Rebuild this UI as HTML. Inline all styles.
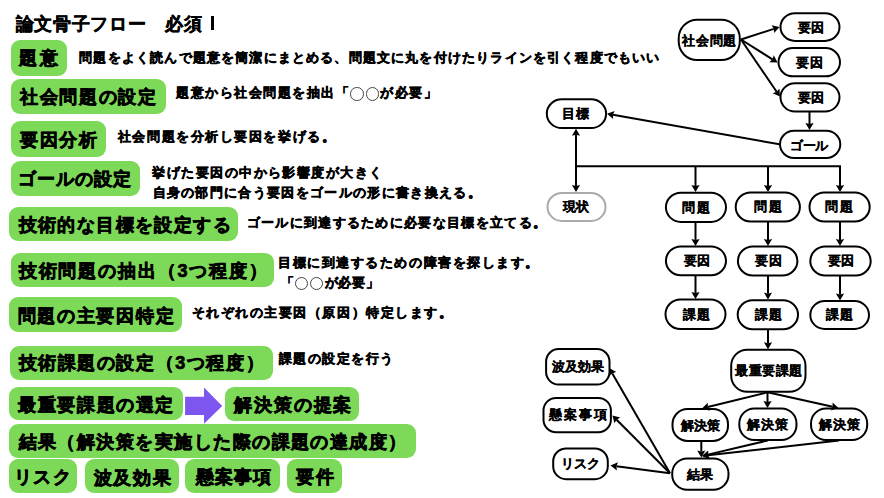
<!DOCTYPE html>
<html><head><meta charset="utf-8"><style>
html,body{margin:0;padding:0;background:#fff;}
body{width:884px;height:498px;position:relative;overflow:hidden;font-family:"Liberation Sans",sans-serif;color:#000;font-weight:bold;}
.t{position:absolute;white-space:nowrap;line-height:1;-webkit-text-stroke-color:#000;}
.b{position:absolute;background:#7dd958;border-radius:9px;}
.c{display:inline-block;box-sizing:border-box;width:13.6px;height:13.6px;margin:0 1.2px 0 0.3px;border:1.1px solid #444;border-radius:50%;vertical-align:top;position:relative;top:0px;-webkit-text-stroke:0;}
svg{position:absolute;left:0;top:0;}
</style></head><body>

<div class="b" style="left:10.6px;top:40.2px;width:56.2px;height:35.7px;"></div>
<div class="b" style="left:11.0px;top:78.6px;width:154.6px;height:35.0px;"></div>
<div class="b" style="left:10.8px;top:121.0px;width:95.6px;height:35.5px;"></div>
<div class="b" style="left:10.5px;top:160.6px;width:129.6px;height:35.4px;"></div>
<div class="b" style="left:9.4px;top:207.0px;width:228.9px;height:34.2px;"></div>
<div class="b" style="left:10.5px;top:252.7px;width:263.9px;height:34.6px;"></div>
<div class="b" style="left:9.1px;top:297.0px;width:173.3px;height:34.6px;"></div>
<div class="b" style="left:9.5px;top:345.7px;width:263.9px;height:34.5px;"></div>
<div class="b" style="left:9.1px;top:386.5px;width:173.9px;height:33.9px;"></div>
<div class="b" style="left:224.5px;top:386.5px;width:134.5px;height:34.4px;"></div>
<div class="b" style="left:9.1px;top:424.4px;width:406.7px;height:33.2px;"></div>
<div class="b" style="left:9.1px;top:459.4px;width:68.4px;height:33.8px;"></div>
<div class="b" style="left:84.9px;top:458.8px;width:93.8px;height:34.4px;"></div>
<div class="b" style="left:185.4px;top:458.8px;width:94.9px;height:34.4px;"></div>
<div class="b" style="left:287.0px;top:458.8px;width:54.8px;height:34.4px;"></div>
<svg width="884" height="498" viewBox="0 0 884 498"><polygon fill="#7c56ef" points="185.1,396.8 204,396.8 204,387.5 222.2,405.9 204,423.7 204,415 185.1,415"/></svg>
<svg width="884" height="498" viewBox="0 0 884 498"><g stroke="#000" stroke-width="2.0" fill="#fff">
<rect x="678.7" y="19.7" width="61.1" height="40.4" rx="18.5" stroke="#000"/>
<rect x="780.5" y="13.2" width="59.0" height="27.7" rx="14.5" stroke="#000"/>
<rect x="778.5" y="48.1" width="61.5" height="28.2" rx="14.5" stroke="#000"/>
<rect x="780.5" y="83.2" width="59.0" height="28.3" rx="14.5" stroke="#000"/>
<rect x="546.8" y="99.3" width="59.3" height="28.8" rx="15" stroke="#000"/>
<rect x="780.0" y="130.8" width="60.3" height="27.1" rx="14" stroke="#000"/>
<rect x="547.5" y="192.9" width="58.0" height="28.1" rx="14.5" stroke="#aaa"/>
<rect x="665.9" y="192.7" width="60.1" height="29.2" rx="15" stroke="#000"/>
<rect x="735.7" y="192.5" width="64.2" height="29.0" rx="15" stroke="#000"/>
<rect x="809.5" y="192.5" width="60.2" height="29.0" rx="15" stroke="#000"/>
<rect x="665.9" y="246.4" width="60.1" height="28.9" rx="15" stroke="#000"/>
<rect x="737.9" y="246.5" width="59.5" height="29.0" rx="15" stroke="#000"/>
<rect x="810.3" y="246.5" width="60.4" height="29.0" rx="15" stroke="#000"/>
<rect x="665.5" y="299.4" width="60.0" height="29.6" rx="15" stroke="#000"/>
<rect x="737.7" y="300.3" width="60.3" height="28.9" rx="15" stroke="#000"/>
<rect x="810.3" y="301.0" width="58.7" height="28.0" rx="14.5" stroke="#000"/>
<rect x="731.2" y="349.7" width="74.3" height="42.1" rx="16" stroke="#000"/>
<rect x="672.5" y="409.1" width="55.5" height="31.8" rx="15" stroke="#000"/>
<rect x="739.3" y="408.5" width="57.2" height="31.5" rx="15" stroke="#000"/>
<rect x="811.0" y="408.5" width="56.2" height="31.5" rx="15" stroke="#000"/>
<rect x="672.2" y="458.5" width="56.3" height="31.3" rx="15" stroke="#000"/>
<rect x="546.1" y="349.1" width="63.4" height="35.4" rx="12.5" stroke="#000"/>
<rect x="543.5" y="398.0" width="67.4" height="34.2" rx="12.5" stroke="#000"/>
<rect x="553.2" y="448.5" width="54.6" height="30.7" rx="13" stroke="#000"/>
</g><g stroke="#000" stroke-width="2.0">
<line x1="575" y1="166.2" x2="841" y2="166.2"/>
<line x1="741.00" y1="39.50" x2="773.84" y2="28.84"/>
<line x1="741.00" y1="39.50" x2="772.47" y2="59.33"/>
<line x1="741.00" y1="39.50" x2="776.64" y2="91.69"/>
<line x1="809.50" y1="112.00" x2="809.50" y2="124.05"/>
<line x1="779.50" y1="144.30" x2="612.86" y2="114.84"/>
<line x1="576.00" y1="134.65" x2="576.00" y2="186.05"/>
<line x1="695.50" y1="166.20" x2="695.50" y2="186.05"/>
<line x1="768.00" y1="166.20" x2="768.00" y2="186.05"/>
<line x1="840.00" y1="166.20" x2="840.00" y2="186.05"/>
<line x1="695.50" y1="222.40" x2="695.50" y2="239.95"/>
<line x1="695.50" y1="275.80" x2="695.50" y2="292.95"/>
<line x1="768.00" y1="222.00" x2="768.00" y2="240.05"/>
<line x1="768.00" y1="276.00" x2="768.00" y2="293.65"/>
<line x1="840.00" y1="222.00" x2="840.00" y2="240.05"/>
<line x1="840.00" y1="276.00" x2="840.00" y2="294.55"/>
<line x1="768.00" y1="329.50" x2="768.00" y2="343.25"/>
<line x1="767.50" y1="392.30" x2="707.78" y2="407.07"/>
<line x1="767.50" y1="392.30" x2="767.50" y2="402.05"/>
<line x1="767.50" y1="392.30" x2="832.69" y2="406.72"/>
<line x1="701.30" y1="441.00" x2="701.30" y2="451.55"/>
<line x1="767.70" y1="440.50" x2="707.79" y2="454.63"/>
<line x1="839.00" y1="440.50" x2="707.91" y2="455.33"/>
<line x1="670.00" y1="473.30" x2="612.18" y2="373.15"/>
<line x1="670.00" y1="473.30" x2="616.60" y2="419.71"/>
<line x1="670.00" y1="473.30" x2="616.40" y2="466.18"/>
</g><g fill="#000"><polygon points="779.50,27.00 774.11,33.06 773.84,28.84 771.58,25.26"/>
<polygon points="777.50,62.50 769.39,62.24 772.47,59.33 773.76,55.30"/>
<polygon points="780.00,96.60 772.67,93.13 776.64,91.69 779.44,88.51"/>
<polygon points="809.50,130.00 805.40,123.00 809.50,124.05 813.60,123.00"/>
<polygon points="607.00,113.80 614.61,110.98 612.86,114.84 613.18,119.06"/>
<polygon points="576.00,192.00 571.90,185.00 576.00,186.05 580.10,185.00"/>
<polygon points="576.00,128.70 580.10,135.70 576.00,134.65 571.90,135.70"/>
<polygon points="695.50,192.00 691.40,185.00 695.50,186.05 699.60,185.00"/>
<polygon points="768.00,192.00 763.90,185.00 768.00,186.05 772.10,185.00"/>
<polygon points="840.00,192.00 835.90,185.00 840.00,186.05 844.10,185.00"/>
<polygon points="695.50,245.90 691.40,238.90 695.50,239.95 699.60,238.90"/>
<polygon points="695.50,298.90 691.40,291.90 695.50,292.95 699.60,291.90"/>
<polygon points="768.00,246.00 763.90,239.00 768.00,240.05 772.10,239.00"/>
<polygon points="768.00,299.60 763.90,292.60 768.00,293.65 772.10,292.60"/>
<polygon points="840.00,246.00 835.90,239.00 840.00,240.05 844.10,239.00"/>
<polygon points="840.00,300.50 835.90,293.50 840.00,294.55 844.10,293.50"/>
<polygon points="768.00,349.20 763.90,342.20 768.00,343.25 772.10,342.20"/>
<polygon points="702.00,408.50 707.81,402.84 707.78,407.07 709.78,410.80"/>
<polygon points="767.50,408.00 763.40,401.00 767.50,402.05 771.60,401.00"/>
<polygon points="838.50,408.00 830.78,410.49 832.69,406.72 832.55,402.49"/>
<polygon points="701.30,457.50 697.20,450.50 701.30,451.55 705.40,450.50"/>
<polygon points="702.00,456.00 707.87,450.40 707.79,454.63 709.75,458.38"/>
<polygon points="702.00,456.00 708.49,451.14 707.91,455.33 709.42,459.29"/>
<polygon points="609.20,368.00 616.25,372.01 612.18,373.15 609.15,376.11"/>
<polygon points="612.40,415.50 620.25,417.56 616.60,419.71 614.44,423.35"/>
<polygon points="610.50,465.40 617.98,462.26 616.40,466.18 616.90,470.39"/></g></svg>
<div class="t" id="title" style="left:15.80px;top:14.60px;font-size:18.00px;letter-spacing:0.671px;-webkit-text-stroke-width:0.45px;">論文骨子フロー　必須</div>
<div class="t" id="b1" style="left:19.40px;top:49.20px;font-size:18.00px;letter-spacing:2.200px;-webkit-text-stroke-width:0.70px;">題意</div>
<div class="t" id="b2" style="left:20.00px;top:87.50px;font-size:18.00px;letter-spacing:1.667px;-webkit-text-stroke-width:0.70px;">社会問題の設定</div>
<div class="t" id="b3" style="left:19.80px;top:130.50px;font-size:18.00px;letter-spacing:1.800px;-webkit-text-stroke-width:0.70px;">要因分析</div>
<div class="t" id="b4" style="left:17.80px;top:169.80px;font-size:18.00px;letter-spacing:1.080px;-webkit-text-stroke-width:0.70px;">ゴールの設定</div>
<div class="t" id="b5" style="left:18.50px;top:215.70px;font-size:18.00px;letter-spacing:1.420px;-webkit-text-stroke-width:0.70px;">技術的な目標を設定する</div>
<div class="t" id="b6" style="left:18.80px;top:261.50px;font-size:18.00px;letter-spacing:1.850px;-webkit-text-stroke-width:0.70px;">技術問題の抽出（3つ程度）</div>
<div class="t" id="b7" style="left:17.50px;top:306.70px;font-size:18.00px;letter-spacing:1.743px;-webkit-text-stroke-width:0.70px;">問題の主要因特定</div>
<div class="t" id="b8" style="left:18.50px;top:354.00px;font-size:18.00px;letter-spacing:1.583px;-webkit-text-stroke-width:0.70px;">技術課題の設定（3つ程度）</div>
<div class="t" id="b9" style="left:18.30px;top:396.00px;font-size:18.00px;letter-spacing:1.571px;-webkit-text-stroke-width:0.70px;">最重要課題の選定</div>
<div class="t" id="b10" style="left:234.40px;top:395.50px;font-size:18.00px;letter-spacing:1.800px;-webkit-text-stroke-width:0.70px;">解決策の提案</div>
<div class="t" id="b11" style="left:18.50px;top:433.00px;font-size:18.00px;letter-spacing:1.463px;-webkit-text-stroke-width:0.70px;">結果（解決策を実施した際の課題の達成度）</div>
<div class="t" id="b12" style="left:14.00px;top:467.50px;font-size:18.00px;letter-spacing:1.300px;-webkit-text-stroke-width:0.70px;">リスク</div>
<div class="t" id="b13" style="left:93.70px;top:468.50px;font-size:18.00px;letter-spacing:1.667px;-webkit-text-stroke-width:0.70px;">波及効果</div>
<div class="t" id="b14" style="left:195.50px;top:467.50px;font-size:18.00px;letter-spacing:1.333px;-webkit-text-stroke-width:0.70px;">懸案事項</div>
<div class="t" id="b15" style="left:296.00px;top:467.50px;font-size:18.00px;letter-spacing:2.000px;-webkit-text-stroke-width:0.70px;">要件</div>
<div class="t" id="s1" style="left:79.30px;top:51.70px;font-size:12.90px;letter-spacing:1.175px;-webkit-text-stroke-width:0.50px;">問題をよく読んで題意を簡潔にまとめる、問題文に丸を付けたりラインを引く程度でもいい</div>
<div class="t" id="s2" style="left:176.40px;top:87.10px;font-size:12.90px;letter-spacing:1.482px;-webkit-text-stroke-width:0.50px;">題意から社会問題を抽出「<i class="c"></i><i class="c"></i>が必要」</div>
<div class="t" id="s3" style="left:117.90px;top:131.20px;font-size:12.90px;letter-spacing:1.557px;-webkit-text-stroke-width:0.50px;">社会問題を分析し要因を挙げる。</div>
<div class="t" id="s4a" style="left:152.40px;top:166.50px;font-size:12.90px;letter-spacing:1.453px;-webkit-text-stroke-width:0.50px;">挙げた要因の中から影響度が大きく</div>
<div class="t" id="s4b" style="left:152.50px;top:187.20px;font-size:12.90px;letter-spacing:1.327px;-webkit-text-stroke-width:0.50px;">自身の部門に合う要因をゴールの形に書き換える。</div>
<div class="t" id="s5" style="left:246.70px;top:216.50px;font-size:12.90px;letter-spacing:1.310px;-webkit-text-stroke-width:0.50px;">ゴールに到達するために必要な目標を立てる。</div>
<div class="t" id="s6a" style="left:278.00px;top:256.50px;font-size:12.90px;letter-spacing:1.553px;-webkit-text-stroke-width:0.50px;">目標に到達するための障害を探します。</div>
<div class="t" id="s6b" style="left:280.50px;top:276.50px;font-size:12.90px;letter-spacing:0.900px;-webkit-text-stroke-width:0.50px;">「<i class="c"></i><i class="c"></i>が必要」</div>
<div class="t" id="s7" style="left:191.50px;top:306.70px;font-size:12.90px;letter-spacing:1.553px;-webkit-text-stroke-width:0.50px;">それぞれの主要因（原因）特定します。</div>
<div class="t" id="s8" style="left:279.00px;top:353.30px;font-size:12.90px;letter-spacing:1.486px;-webkit-text-stroke-width:0.50px;">課題の設定を行う</div>
<div class="t" id="n1" style="left:682.25px;top:33.60px;font-size:13.20px;letter-spacing:0.667px;-webkit-text-stroke-width:0.25px;">社会問題</div>
<div class="t" id="n2" style="left:797.50px;top:20.95px;font-size:13.20px;letter-spacing:0.000px;-webkit-text-stroke-width:0.25px;">要因</div>
<div class="t" id="n3" style="left:796.25px;top:55.80px;font-size:13.20px;letter-spacing:1.000px;-webkit-text-stroke-width:0.25px;">要因</div>
<div class="t" id="n4" style="left:797.50px;top:90.65px;font-size:13.20px;letter-spacing:0.000px;-webkit-text-stroke-width:0.25px;">要因</div>
<div class="t" id="n5" style="left:561.80px;top:107.30px;font-size:13.20px;letter-spacing:1.500px;-webkit-text-stroke-width:0.25px;">目標</div>
<div class="t" id="n6" style="left:790.40px;top:138.65px;font-size:13.20px;letter-spacing:-0.550px;-webkit-text-stroke-width:0.25px;">ゴール</div>
<div class="t" id="n7" style="left:563.00px;top:200.05px;font-size:13.20px;letter-spacing:0.000px;-webkit-text-stroke-width:0.25px;">現状</div>
<div class="t" id="n8" style="left:682.05px;top:200.70px;font-size:13.20px;letter-spacing:2.000px;-webkit-text-stroke-width:0.25px;">問題</div>
<div class="t" id="n9" style="left:754.20px;top:200.00px;font-size:13.20px;letter-spacing:2.000px;-webkit-text-stroke-width:0.25px;">問題</div>
<div class="t" id="n10" style="left:825.40px;top:200.00px;font-size:13.20px;letter-spacing:2.000px;-webkit-text-stroke-width:0.25px;">問題</div>
<div class="t" id="n11" style="left:683.55px;top:254.15px;font-size:13.20px;letter-spacing:0.000px;-webkit-text-stroke-width:0.25px;">要因</div>
<div class="t" id="n12" style="left:754.85px;top:254.00px;font-size:13.20px;letter-spacing:1.000px;-webkit-text-stroke-width:0.25px;">要因</div>
<div class="t" id="n13" style="left:828.00px;top:254.00px;font-size:13.20px;letter-spacing:0.000px;-webkit-text-stroke-width:0.25px;">要因</div>
<div class="t" id="n14" style="left:682.50px;top:307.80px;font-size:13.20px;letter-spacing:1.000px;-webkit-text-stroke-width:0.25px;">課題</div>
<div class="t" id="n15" style="left:755.15px;top:308.25px;font-size:13.20px;letter-spacing:1.000px;-webkit-text-stroke-width:0.25px;">課題</div>
<div class="t" id="n16" style="left:826.35px;top:308.00px;font-size:13.20px;letter-spacing:1.000px;-webkit-text-stroke-width:0.25px;">課題</div>
<div class="t" id="n17" style="left:735.25px;top:364.25px;font-size:13.20px;letter-spacing:0.450px;-webkit-text-stroke-width:0.25px;">最重要課題</div>
<div class="t" id="n18" style="left:680.65px;top:418.80px;font-size:13.20px;letter-spacing:0.200px;-webkit-text-stroke-width:0.25px;">解決策</div>
<div class="t" id="n19" style="left:747.40px;top:417.75px;font-size:13.20px;letter-spacing:0.700px;-webkit-text-stroke-width:0.25px;">解決策</div>
<div class="t" id="n20" style="left:819.20px;top:417.75px;font-size:13.20px;letter-spacing:0.700px;-webkit-text-stroke-width:0.25px;">解決策</div>
<div class="t" id="n21" style="left:686.85px;top:467.85px;font-size:13.20px;letter-spacing:0.600px;-webkit-text-stroke-width:0.25px;">結果</div>
<div class="t" id="n22" style="left:551.70px;top:360.40px;font-size:13.20px;letter-spacing:0.000px;-webkit-text-stroke-width:0.25px;">波及効果</div>
<div class="t" id="n23" style="left:548.60px;top:408.30px;font-size:13.20px;letter-spacing:2.000px;-webkit-text-stroke-width:0.25px;">懸案事項</div>
<div class="t" id="n24" style="left:560.50px;top:457.15px;font-size:13.20px;letter-spacing:0.000px;-webkit-text-stroke-width:0.25px;">リスク</div>
<div style="position:absolute;left:210.7px;top:16px;width:3.5px;height:14.1px;background:#000;"></div>
</body></html>
